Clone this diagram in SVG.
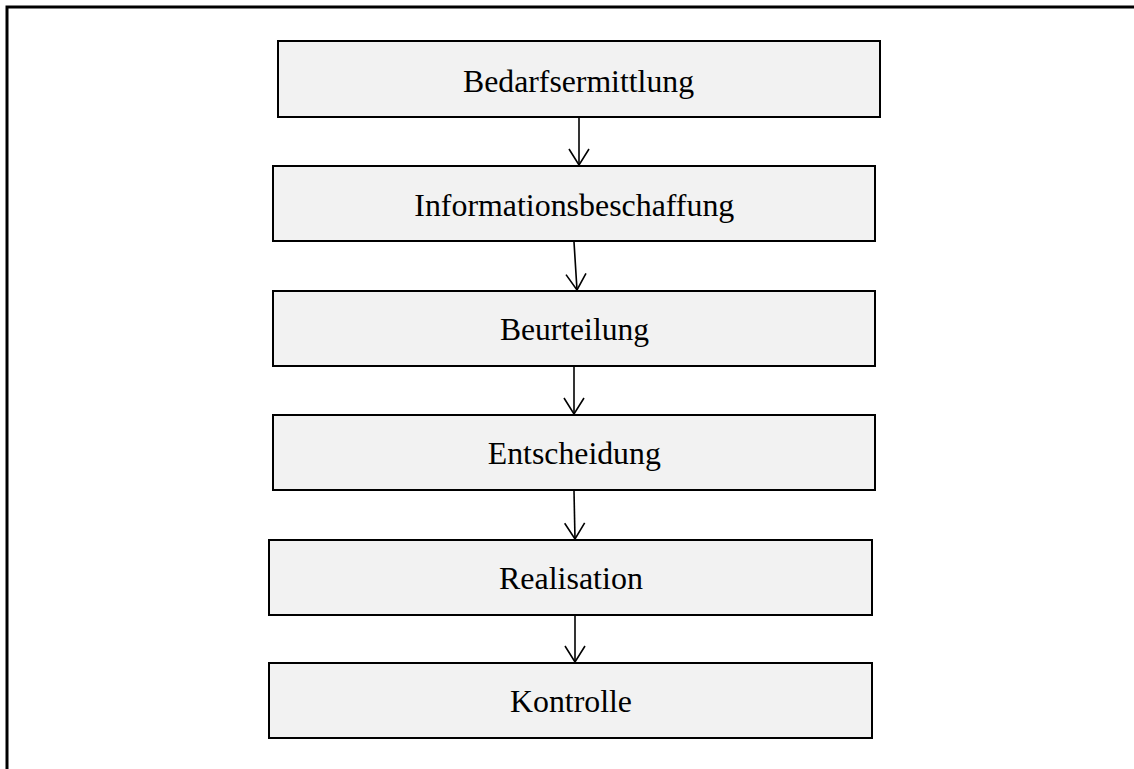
<svg xmlns="http://www.w3.org/2000/svg" width="1134" height="769" viewBox="0 0 1134 769">
  <style>
    .box { fill: #f2f2f2; stroke: #000; stroke-width: 2; }
    .lbl { font-family: "Liberation Serif", "Times New Roman", serif; font-size: 32px; fill: #000; text-anchor: middle; }
    .conn { stroke: #000; stroke-width: 1.6; fill: none; }
  </style>
  <defs>
    <marker id="arrow" markerUnits="userSpaceOnUse" markerWidth="20" markerHeight="24" refX="0" refY="0" orient="auto" overflow="visible">
      <path d="M-16,-10 L0,0 L-16,10" fill="none" stroke="#000" stroke-width="1.6"/>
    </marker>
  </defs>
  <rect x="0" y="0" width="1134" height="769" fill="#fff"/>
  <path d="M7,769 V7 H1134" fill="none" stroke="#000" stroke-width="3"/>

  <g id="node-bedarfsermittlung">
    <rect class="box" x="278" y="41" width="602" height="76"/>
    <text class="lbl" x="578.5" y="92" textLength="231" lengthAdjust="spacingAndGlyphs">Bedarfsermittlung</text>
  </g>
  <g id="node-informationsbeschaffung">
    <rect class="box" x="273" y="166" width="602" height="75"/>
    <text class="lbl" x="574.3" y="216" textLength="320" lengthAdjust="spacingAndGlyphs">Informationsbeschaffung</text>
  </g>
  <g id="node-beurteilung">
    <rect class="box" x="273" y="291" width="602" height="75"/>
    <text class="lbl" x="574.5" y="340" textLength="149" lengthAdjust="spacingAndGlyphs">Beurteilung</text>
  </g>
  <g id="node-entscheidung">
    <rect class="box" x="273" y="415" width="602" height="75"/>
    <text class="lbl" x="574.3" y="464" textLength="173" lengthAdjust="spacingAndGlyphs">Entscheidung</text>
  </g>
  <g id="node-realisation">
    <rect class="box" x="269" y="540" width="603" height="75"/>
    <text class="lbl" x="570.9" y="589" textLength="144" lengthAdjust="spacingAndGlyphs">Realisation</text>
  </g>
  <g id="node-kontrolle">
    <rect class="box" x="269" y="663" width="603" height="75"/>
    <text class="lbl" x="571" y="712" textLength="122" lengthAdjust="spacingAndGlyphs">Kontrolle</text>
  </g>

  <g id="connectors">
    <line class="conn" x1="579" y1="118" x2="579" y2="165" marker-end="url(#arrow)"/>
    <line class="conn" x1="574" y1="242" x2="577" y2="290" marker-end="url(#arrow)"/>
    <line class="conn" x1="574" y1="367" x2="574" y2="414" marker-end="url(#arrow)"/>
    <line class="conn" x1="574" y1="491" x2="575" y2="539" marker-end="url(#arrow)"/>
    <line class="conn" x1="575" y1="616" x2="575" y2="662" marker-end="url(#arrow)"/>
  </g>
</svg>
